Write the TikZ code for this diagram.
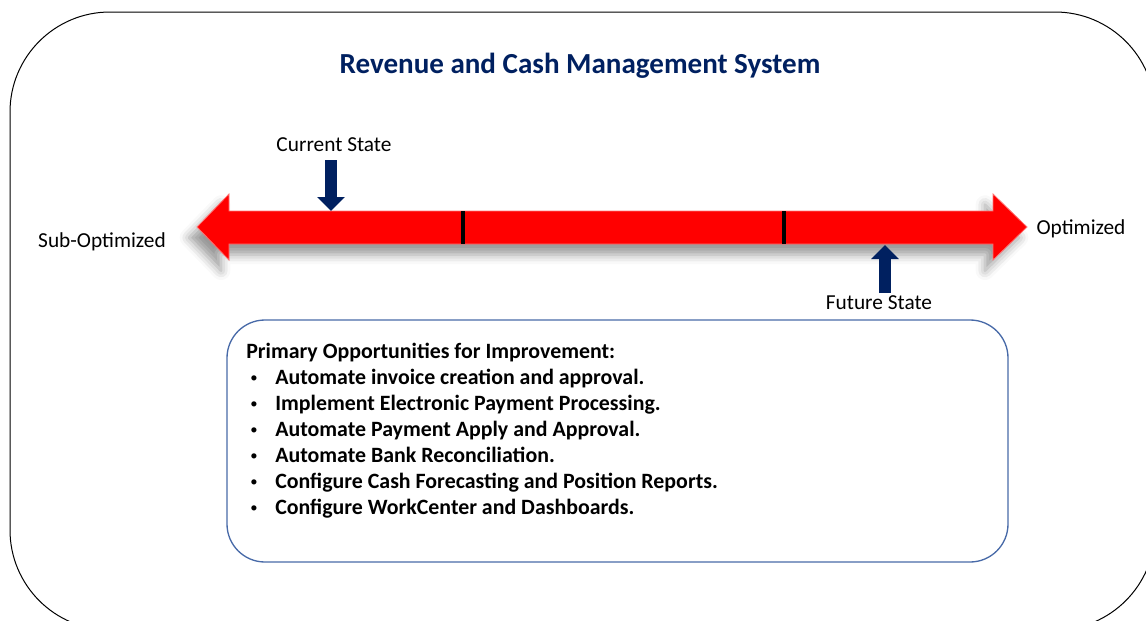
\documentclass[tikz,border=0pt]{standalone}
\usepackage{fontspec}
\setmainfont{Carlito}
\usepackage{tikz}
\usetikzlibrary{calc, arrows.meta, shadows.blur}
\definecolor{navy}{RGB}{0,32,96}
\definecolor{boxblue}{RGB}{72,106,168}
\tikzstyle{statetext} = [font=\fontsize{16}{19.5}\selectfont, inner sep=2pt]
\tikzstyle{marker} = [draw=navy, line width=9pt, -{Triangle[width=20.25pt, length=10.5pt]}]
\tikzstyle{tick} = [draw=black, line width=3pt]
\tikzstyle{outline} = [rounded corners=75pt, draw=black, line width=0.75pt]
\tikzstyle{listbox} = [rounded corners=28.5pt, draw=boxblue, line width=1pt]
\newcommand{\opp}[1]{\makebox[21.75pt][l]{\hspace{3pt}\raisebox{1.5pt}{\fontsize{11}{11}\selectfont\mdseries\textbullet}}#1}

\begin{document}
\begin{tikzpicture}[x=0.75pt, y=-0.75pt]

        \useasboundingbox (0,0) rectangle (1146,621);
        \clip (0,0) rectangle (1146,621);

        \draw [outline] (10,12) rectangle (1155,630);

        \node (title) [font=\fontsize{21.8}{26}\selectfont\bfseries, text=navy] at (580,66) {Revenue and Cash Management System};

        % scale bar
        \draw [fill=red, draw=red!55!white, line width=0.6pt,
               blur shadow={shadow xshift=-6pt, shadow yshift=-8pt, shadow blur radius=7pt, shadow opacity=40}]
            (197,227) -- (229,194) -- (229,211) -- (993,211) -- (993,194) -- (1027,227)
            -- (993,260) -- (993,244) -- (229,244) -- (229,260) -- cycle;
        \draw [tick] (463,211) -- (463,244);
        \draw [tick] (784,211) -- (784,244);

        \node (subopt) [statetext] at (102,242) {Sub-Optimized};
        \node (opt)    [statetext] at (1081,229) {Optimized};

        \coordinate (curtip) at (331,211);
        \coordinate (futtip) at (885,245);

        \node (cur) [statetext] at (334,145) {Current State};
        \node (fut) [statetext] at (879,303) {Future State};

        \draw [marker, shorten <=4pt] (curtip |- cur.south) -- (curtip);
        \draw [marker] (futtip |- fut.north) -- (futtip);

        % opportunities
        \draw [listbox] (227,320) rectangle (1008,562);
        \node (opps) [anchor=north west, align=left, inner sep=0pt,
                      font=\fontsize{16.4}{19.5}\selectfont\bfseries] at (246,343) {%
            Primary Opportunities for Improvement:\\
            \opp{Automate invoice creation and approval.}\\
            \opp{Implement Electronic Payment Processing.}\\
            \opp{Automate Payment Apply and Approval.}\\
            \opp{Automate Bank Reconciliation.}\\
            \opp{Configure Cash Forecasting and Position Reports.}\\
            \opp{Configure WorkCenter and Dashboards.}};

    \end{tikzpicture}
\end{document}
